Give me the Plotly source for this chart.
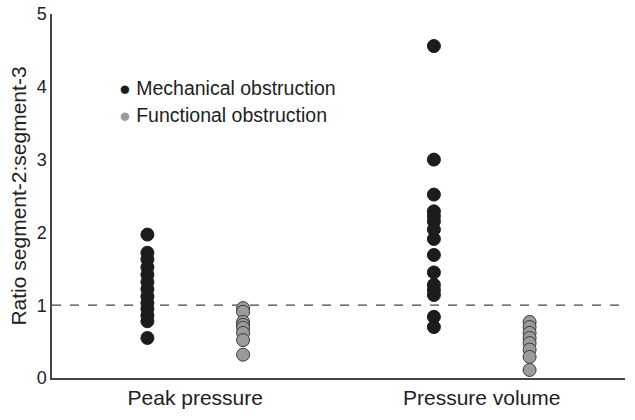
import plotly.graph_objects as go

groups = ["Peak pressure", "Pressure volume"]
peak_mechanical = [1.97, 1.72, 1.63, 1.52, 1.42, 1.32, 1.22, 1.12, 1.03, 0.95, 0.86, 0.78, 0.55]
peak_functional = [0.96, 0.91, 0.77, 0.73, 0.69, 0.62, 0.52, 0.32]
pv_mechanical = [4.56, 3.0, 2.52, 2.29, 2.22, 2.15, 2.04, 1.91, 1.69, 1.45, 1.28, 1.21, 1.14, 0.84, 0.70]
pv_functional = [0.77, 0.70, 0.62, 0.55, 0.48, 0.39, 0.29, 0.11]
series_names = ["Mechanical obstruction", "Functional obstruction"]
reference_ratio = 1.0
y_ticks = [0, 1, 2, 3, 4, 5]

offset = 0.167
font = "Liberation Sans, Arial, sans-serif"
mech_color = "#1c1c1c"
func_color = "#9b9b9b"

mech_x = [1 - offset] * len(peak_mechanical) + [2 - offset] * len(pv_mechanical)
mech_y = peak_mechanical + pv_mechanical
func_x = [1 + offset] * len(peak_functional) + [2 + offset] * len(pv_functional)
func_y = peak_functional + pv_functional

fig = go.Figure()
fig.add_trace(go.Scatter(
    x=mech_x, y=mech_y, mode="markers", name=series_names[0], showlegend=False,
    marker=dict(size=13, color=mech_color, line=dict(color=mech_color, width=1)),
))
fig.add_trace(go.Scatter(
    x=func_x, y=func_y, mode="markers", name=series_names[1], showlegend=False,
    marker=dict(size=13, color=func_color, line=dict(color="#3a3a3a", width=1)),
))
fig.add_shape(type="line", xref="paper", x0=0, x1=1, yref="y", y0=reference_ratio, y1=reference_ratio,
              line=dict(color="#444444", width=1.3, dash="dash"), layer="below")

# manual legend
for name, color, yy in [(series_names[0], mech_color, 0.797), (series_names[1], func_color, 0.7225)]:
    fig.add_annotation(
        xref="paper", yref="paper", x=0.113, y=yy, xanchor="left", yanchor="middle",
        showarrow=False,
        text=f"<span style='color:{color}'>●</span> {name}",
        font=dict(family=font, size=19.5, color="#222222"),
    )

fig.update_layout(
    width=635, height=420,
    margin=dict(l=52, r=10, t=14, b=42),
    plot_bgcolor="white", paper_bgcolor="white",
    font=dict(family=font, size=18, color="#222222"),
    showlegend=False,
    xaxis=dict(range=[0.5, 2.5], tickmode="array", tickvals=[1, 2], ticktext=groups,
               showline=True, linecolor="#444444", linewidth=1.5, showgrid=False,
               zeroline=False, ticks="", tickfont=dict(size=21), automargin=False),
    yaxis=dict(range=[0, 5], tickmode="array", tickvals=y_ticks,
               showline=True, linecolor="#444444", linewidth=1.5, showgrid=False,
               zeroline=False, ticks="", tickfont=dict(size=18), automargin=False,
               title=dict(text="Ratio segment-2:segment-3", font=dict(size=21), standoff=4)),
)

fig.write_html("out.html", config={"displayModeBar": False},
               post_script="document.body.style.margin='0';")
